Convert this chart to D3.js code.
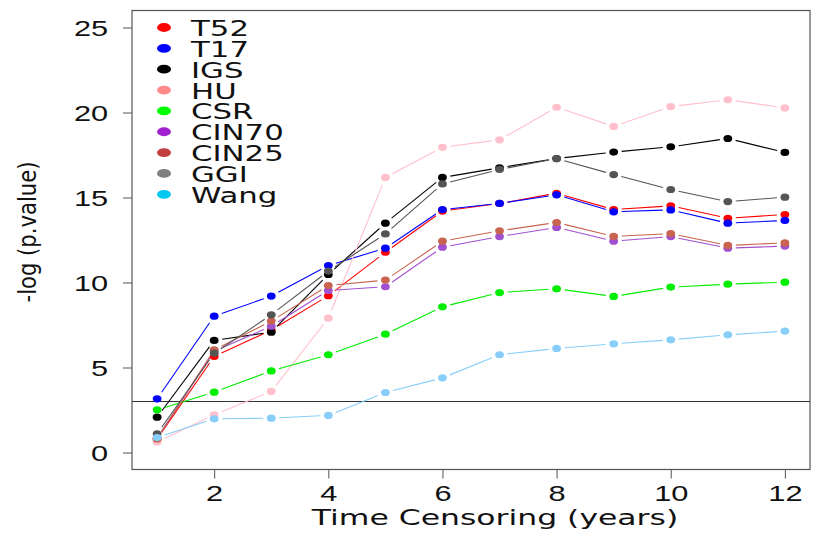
<!DOCTYPE html>
<html>
<head>
<meta charset="utf-8">
<script src="https://cdn.jsdelivr.net/npm/d3@7"></script>
<style>
  body { margin: 0; background: #fff; }
  svg { display: block; font-family: "DejaVu Sans", sans-serif; }
</style>
</head>
<body>
<div id="chart"></div>
<script>
// Time censoring (years)
const years = [1, 2, 3, 4, 5, 6, 7, 8, 9, 10, 11, 12];

const seriesNames = ["T52", "T17", "IGS", "HU", "CSR", "CIN70", "CIN25", "GGI", "Wang"];

// -log(p.value) per series
const T52   = [0.8, 5.65, 7.2, 9.22, 11.78, 14.2, 14.65, 15.25, 14.29, 14.51, 13.78, 14.0];
const T17   = [3.16, 8.02, 9.2, 11.0, 12.02, 14.29, 14.65, 15.16, 14.16, 14.27, 13.49, 13.65];
const IGS   = [2.08, 6.59, 7.08, 10.47, 13.49, 16.18, 16.75, 17.29, 17.67, 17.98, 18.47, 17.65];
const HU    = [0.62, 2.22, 3.59, 7.9, 16.18, 17.95, 18.39, 20.31, 19.18, 20.35, 20.75, 20.27];
const CSR   = [2.51, 3.55, 4.8, 5.75, 6.96, 8.57, 9.41, 9.63, 9.18, 9.73, 9.9, 10.02];
const CIN70 = [0.85, 5.96, 7.43, 9.53, 9.75, 12.08, 12.7, 13.24, 12.43, 12.7, 12.02, 12.14];
const CIN25 = [0.8, 6.04, 7.73, 9.82, 10.14, 12.43, 13.04, 13.53, 12.71, 12.88, 12.18, 12.33];
const GGI   = [1.1, 5.84, 8.1, 10.67, 12.86, 15.8, 16.65, 17.29, 16.35, 15.47, 14.76, 15.02];
const Wang  = [0.88, 1.98, 2.02, 2.18, 3.53, 4.39, 5.75, 6.12, 6.39, 6.63, 6.92, 7.14];

const seriesValues = [T52, T17, IGS, HU, CSR, CIN70, CIN25, GGI, Wang];

const lineColors   = ["#ff0000", "#0000ff", "#000000", "#ffc0cb", "#00ee00", "#a050d0", "#c86450", "#555555", "#87cefa"];
const legendColors = ["#ff0000", "#0000ff", "#000000", "#ff8a8a", "#00ff00", "#a020d0", "#c04040", "#808080", "#00c8f0"];

const xTicks = [2, 4, 6, 8, 10, 12];
const yTicks = [0, 5, 10, 15, 20, 25];
const threshold = 3;

const W = 813, H = 534;
const stretch = 1.4; // glyphs are wider than tall in the reference

const svg = d3.select("#chart").append("svg")
  .attr("width", W).attr("height", H);

const x = d3.scaleLinear().domain([0.56, 12.44]).range([132, 810]);
const y = d3.scaleLinear().domain([-1, 26]).range([469.5, 10.5]);

// plot box
svg.append("rect")
  .attr("x", x.range()[0]).attr("y", y.range()[1])
  .attr("width", x.range()[1] - x.range()[0])
  .attr("height", y.range()[0] - y.range()[1])
  .attr("fill", "none").attr("stroke", "#555").attr("stroke-width", 1.2);

// x axis
const xAxis = svg.append("g")
  .attr("transform", `translate(0,${y.range()[0]})`)
  .call(d3.axisBottom(x).tickValues(xTicks).tickSize(9).tickSizeOuter(0).tickPadding(0));
xAxis.select(".domain").remove();
xAxis.selectAll(".tick line").attr("stroke", "#555");
xAxis.selectAll("text")
  .attr("y", 32).attr("dy", 0)
  .attr("transform", `scale(${stretch},1)`)
  .style("font-size", "22px").attr("fill", "#111");

// y axis
const yAxis = svg.append("g")
  .attr("transform", `translate(${x.range()[0]},0)`)
  .call(d3.axisLeft(y).tickValues(yTicks).tickSize(9).tickSizeOuter(0));
yAxis.select(".domain").remove();
yAxis.selectAll(".tick line").attr("stroke", "#555");
yAxis.selectAll("text")
  .attr("x", -17).attr("dy", "0.36em")
  .attr("transform", `scale(${stretch},1)`)
  .style("font-size", "22px").attr("fill", "#111");

// threshold line
svg.append("line")
  .attr("x1", x.range()[0]).attr("x2", x.range()[1])
  .attr("y1", y(threshold)).attr("y2", y(threshold))
  .attr("stroke", "#333").attr("stroke-width", 1.1);

// axis titles
svg.append("text")
  .attr("transform", `translate(495,525) scale(1.43,1)`)
  .attr("text-anchor", "middle")
  .style("font-size", "22px").attr("fill", "#111")
  .text("Time Censoring (years)");

svg.append("text")
  .attr("transform", `translate(36,232) rotate(-90) scale(0.92,1.05)`)
  .attr("text-anchor", "middle")
  .style("font-size", "23px").attr("fill", "#111")
  .text("-log (p.value)");

// series: lines with gaps around points (type "b")
const gap = 8;
seriesValues.forEach((vals, i) => {
  const pts = years.map((yr, j) => [x(yr), y(vals[j])]);
  const g = svg.append("g");
  for (let j = 0; j < pts.length - 1; j++) {
    const [x0, y0] = pts[j], [x1, y1] = pts[j + 1];
    const len = Math.hypot(x1 - x0, y1 - y0);
    if (len <= 2 * gap) continue;
    const ux = (x1 - x0) / len, uy = (y1 - y0) / len;
    g.append("line")
      .attr("x1", x0 + ux * gap).attr("y1", y0 + uy * gap)
      .attr("x2", x1 - ux * gap).attr("y2", y1 - uy * gap)
      .attr("stroke", lineColors[i]).attr("stroke-width", 1.1);
  }
  g.selectAll("ellipse").data(pts).enter().append("ellipse")
    .attr("cx", d => d[0]).attr("cy", d => d[1])
    .attr("rx", 4.4).attr("ry", 3.6)
    .attr("fill", lineColors[i]);
});

// legend
const legend = svg.append("g");
seriesNames.forEach((name, i) => {
  const base = 36 + i * 20.85;
  legend.append("ellipse")
    .attr("cx", 164).attr("cy", base - 8.5)
    .attr("rx", 7).attr("ry", 4.4)
    .attr("fill", legendColors[i]);
  legend.append("text")
    .attr("transform", `translate(191,${base}) scale(${stretch},1)`)
    .style("font-size", "22px").attr("fill", "#111")
    .text(name);
});
</script>
</body>
</html>
